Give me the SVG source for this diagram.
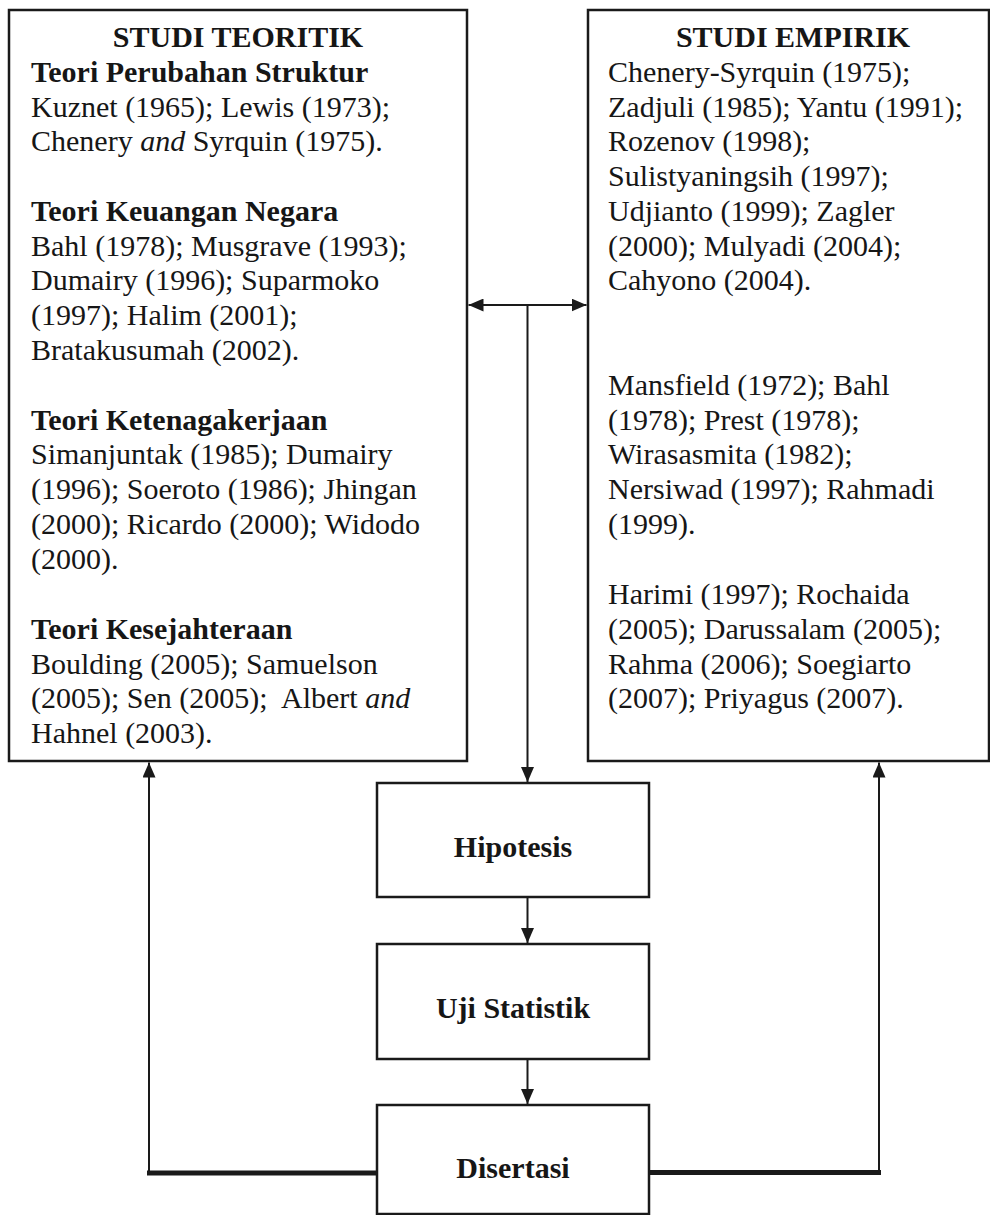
<svg xmlns="http://www.w3.org/2000/svg" width="990" height="1215" viewBox="0 0 990 1215">
<style>
text{font-family:"Liberation Serif","Times New Roman",serif;font-size:30px;fill:#161616}
.b{font-weight:bold}
.i{font-style:italic}
.c{text-anchor:middle}
.box{fill:none;stroke:#1a1a1a;stroke-width:2.5}
.ln{fill:none;stroke:#1a1a1a;stroke-width:2}
.thick{fill:none;stroke:#1a1a1a;stroke-width:5}
</style>
<defs>
<marker id="ah" markerUnits="userSpaceOnUse" viewBox="0 0 15 13" markerWidth="15" markerHeight="13" refX="15" refY="6.5" orient="auto-start-reverse">
<path d="M0,0 L15,6.5 L0,13 z" fill="#1a1a1a"/>
</marker>
</defs>
<rect width="990" height="1215" fill="#ffffff"/>

<g id="studi-teoritik">
<rect class="box" x="9" y="10" width="458" height="751"/>
<text class="b c" x="238" y="47">STUDI TEORITIK</text>
<text class="b" x="31" y="82">Teori Perubahan Struktur</text>
<text x="31" y="117">Kuznet (1965); Lewis (1973);</text>
<text x="31" y="151">Chenery <tspan class="i">and</tspan> Syrquin (1975).</text>
<text class="b" x="31" y="221">Teori Keuangan Negara</text>
<text x="31" y="256">Bahl (1978); Musgrave (1993);</text>
<text x="31" y="290">Dumairy (1996); Suparmoko</text>
<text x="31" y="325">(1997); Halim (2001);</text>
<text x="31" y="360">Bratakusumah (2002).</text>
<text class="b" x="31" y="430">Teori Ketenagakerjaan</text>
<text x="31" y="464">Simanjuntak (1985); Dumairy</text>
<text x="31" y="499">(1996); Soeroto (1986); Jhingan</text>
<text x="31" y="534">(2000); Ricardo (2000); Widodo</text>
<text x="31" y="569">(2000).</text>
<text class="b" x="31" y="639">Teori Kesejahteraan</text>
<text x="31" y="674">Boulding (2005); Samuelson</text>
<text x="31" y="708" style="white-space:pre">(2005); Sen (2005);  Albert <tspan class="i">and</tspan></text>
<text x="31" y="743">Hahnel (2003).</text>
</g>

<g id="studi-empirik">
<rect class="box" x="588" y="10" width="401" height="751"/>
<text class="b c" x="793" y="47">STUDI EMPIRIK</text>
<text x="608" y="82">Chenery-Syrquin (1975);</text>
<text x="608" y="117">Zadjuli (1985); Yantu (1991);</text>
<text x="608" y="151">Rozenov (1998);</text>
<text x="608" y="186">Sulistyaningsih (1997);</text>
<text x="608" y="221">Udjianto (1999); Zagler</text>
<text x="608" y="256">(2000); Mulyadi (2004);</text>
<text x="608" y="290">Cahyono (2004).</text>
<text x="608" y="395">Mansfield (1972); Bahl</text>
<text x="608" y="430">(1978); Prest (1978);</text>
<text x="608" y="464">Wirasasmita (1982);</text>
<text x="608" y="499">Nersiwad (1997); Rahmadi</text>
<text x="608" y="534">(1999).</text>
<text x="608" y="604">Harimi (1997); Rochaida</text>
<text x="608" y="639">(2005); Darussalam (2005);</text>
<text x="608" y="674">Rahma (2006); Soegiarto</text>
<text x="608" y="708">(2007); Priyagus (2007).</text>
</g>

<g id="hipotesis">
<rect class="box" x="377" y="783" width="272" height="114"/>
<text class="b c" x="513" y="857">Hipotesis</text>
</g>

<g id="uji-statistik">
<rect class="box" x="377" y="944" width="272" height="115"/>
<text class="b c" x="513" y="1018">Uji Statistik</text>
</g>

<g id="disertasi">
<rect class="box" x="377" y="1105" width="272" height="109"/>
<text class="b c" x="513" y="1178">Disertasi</text>
</g>

<g id="connectors">
<path class="ln" d="M468.5,305 H586.5" marker-start="url(#ah)" marker-end="url(#ah)"/>
<path class="ln" d="M527.5,305 V782" marker-end="url(#ah)"/>
<path class="ln" d="M527.5,897 V943" marker-end="url(#ah)"/>
<path class="ln" d="M527.5,1059 V1104" marker-end="url(#ah)"/>
<path class="thick" d="M377,1173 H147"/>
<path class="ln" d="M149,1175 V762.5" marker-end="url(#ah)"/>
<path class="thick" d="M649,1172.5 H881"/>
<path class="ln" d="M879,1175 V762.5" marker-end="url(#ah)"/>
</g>
</svg>
